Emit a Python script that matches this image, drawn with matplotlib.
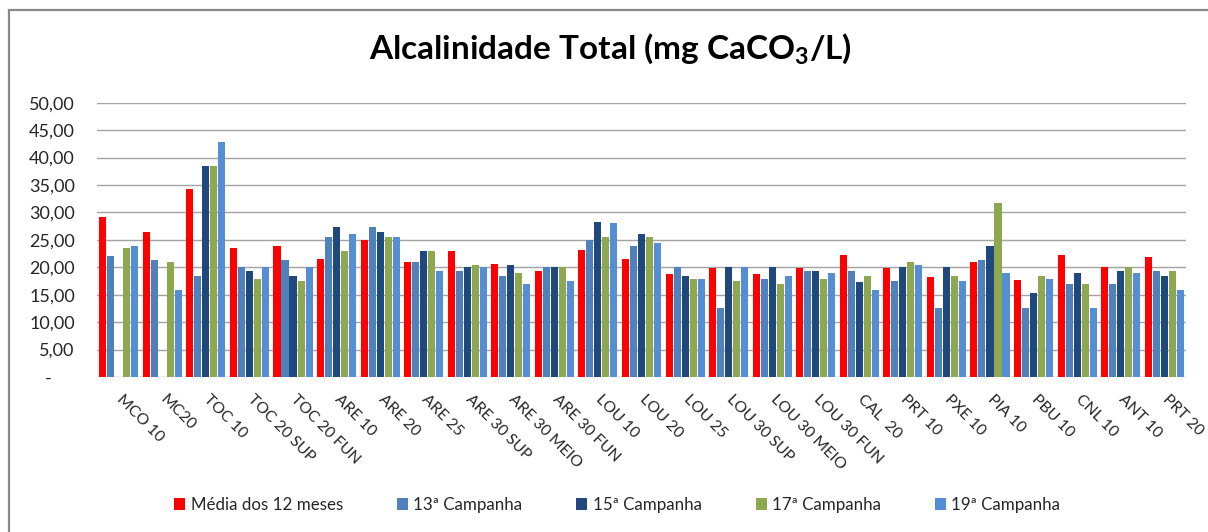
import matplotlib
matplotlib.use("Agg")
import matplotlib.pyplot as plt
import numpy as np
from matplotlib.patches import Rectangle, Patch

plt.rcParams['font.family'] = ['Lato', 'DejaVu Sans']
plt.rcParams['mathtext.fontset'] = 'custom'
plt.rcParams['mathtext.rm'] = 'Lato:bold'
plt.rcParams['mathtext.bf'] = 'Lato:bold'
plt.rcParams['mathtext.it'] = 'Lato:bold'

categories = ["MCO 10", "MC20", "TOC 10", "TOC 20 SUP", "TOC 20 FUN", "ARE 10", "ARE 20",
              "ARE 25", "ARE 30 SUP", "ARE 30 MEIO", "ARE 30 FUN", "LOU 10", "LOU 20",
              "LOU 25", "LOU 30 SUP", "LOU 30 MEIO", "LOU 30 FUN", "CAL  20", "PRT 10",
              "PXE 10", "PIA 10", "PBU 10", "CNL 10", "ANT 10", "PRT 20"]

media_12_meses = [29.1, 26.4, 34.2, 23.5, 23.9, 21.5, 24.9, 21.0, 22.9, 20.6, 19.4, 23.1, 21.5,
                  18.7, 19.8, 18.7, 19.8, 22.3, 19.8, 18.2, 21.0, 17.7, 22.3, 20.0, 21.8]
campanha_13 = [22.0, 21.4, 18.5, 20.0, 21.4, 25.5, 27.4, 21.0, 19.4, 18.5, 20.0, 24.9, 23.9,
               20.0, 12.5, 17.9, 19.4, 19.4, 17.5, 12.5, 21.4, 12.5, 16.9, 16.9, 19.4]
campanha_15 = [np.nan, np.nan, 38.4, 19.4, 18.5, 27.4, 26.4, 22.9, 20.0, 20.4, 20.0, 28.3, 26.0,
               18.5, 20.0, 20.0, 19.4, 17.3, 20.0, 20.0, 23.9, 15.4, 18.9, 19.4, 18.5]
campanha_17 = [23.5, 21.0, 38.4, 17.9, 17.5, 22.9, 25.5, 22.9, 20.4, 18.9, 20.0, 25.5, 25.5,
               17.9, 17.5, 16.9, 17.9, 18.5, 21.0, 18.5, 31.8, 18.5, 16.9, 20.0, 19.4]
campanha_19 = [23.9, 15.9, 42.9, 20.0, 20.0, 26.0, 25.5, 19.4, 20.0, 16.9, 17.5, 28.0, 24.5,
               17.9, 20.0, 18.5, 18.9, 15.9, 20.4, 17.5, 18.9, 17.9, 12.5, 18.9, 15.9]

series_names = ["Média dos 12 meses", "13ª Campanha", "15ª Campanha", "17ª Campanha", "19ª Campanha"]
series_values = [media_12_meses, campanha_13, campanha_15, campanha_17, campanha_19]
colors = ["#FF0000", "#4F81BD", "#1F497D", "#8EA84F", "#558ED5"]

yticks = [0, 5, 10, 15, 20, 25, 30, 35, 40, 45, 50]
ytick_labels = ["-     ", "5,00", "10,00", "15,00", "20,00", "25,00", "30,00", "35,00",
                "40,00", "45,00", "50,00"]

W, H = 1208, 532
fig = plt.figure(figsize=(W / 100, H / 100), dpi=100)
ax = fig.add_axes([97 / W, 1 - 377 / H, (1186 - 97) / W, (377 - 102.7) / H])

x = np.arange(len(categories))
slot = 0.184
bw = 0.162
for k, (vals, c) in enumerate(zip(series_values, colors)):
    ax.bar(x + (k - 2) * slot, vals, width=bw, color=c, zorder=3, linewidth=0)

ax.set_xlim(-0.5, len(categories) - 0.5)
ax.set_ylim(0, 50)
ax.set_yticks(yticks)
ax.set_yticklabels(ytick_labels)
ax.yaxis.grid(True, color="#a3a3a3", linewidth=1.0, zorder=0)
ax.set_axisbelow(True)
for s in ax.spines.values():
    s.set_visible(False)
ax.tick_params(axis="y", length=0, pad=16, labelsize=13, labelcolor="#262626")
ax.tick_params(axis="x", length=0, pad=11, labelsize=11.3, labelcolor="#262626")
ax.set_xticks(x + 0.12)
ax.set_xticklabels(categories, rotation=-45, ha="left", va="top", rotation_mode="anchor")

fig.text(0.505, 1 - 59 / H, r"Alcalinidade Total (mg CaCO$_{3}$/L)", ha="center",
         va="baseline", fontsize=24, fontweight="bold", color="black")

handles = [Patch(facecolor=c, edgecolor="none") for c in colors]
fig.legend(handles, series_names, loc="center", bbox_to_anchor=(0.511, 1 - 505 / H), ncol=5,
           frameon=False, fontsize=12.2, handlelength=0.65, handleheight=0.65,
           handletextpad=0.3, columnspacing=3.2, labelcolor="#262626")

fig.patches.append(Rectangle((9 / W, -0.1), 1.2, 1 - 10 / H + 0.1, transform=fig.transFigure,
                             fill=False, edgecolor="#898989", linewidth=1.6))

fig.savefig("out.png", dpi=100)
